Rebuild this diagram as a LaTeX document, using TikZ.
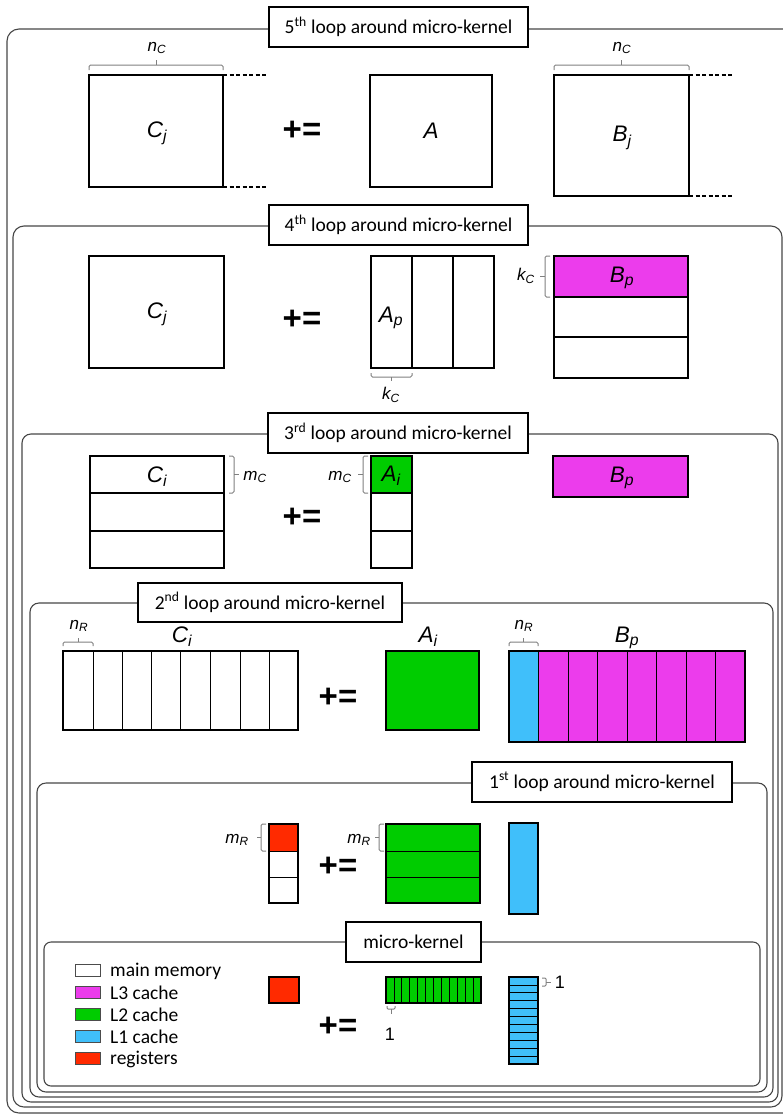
\documentclass[tikz,border=0pt]{standalone}
\usepackage{fontspec}
\setmainfont{Carlito}
\newfontfamily\arialf{Liberation Sans}
\definecolor{mag}{RGB}{236,60,236}
\definecolor{grn}{RGB}{0,204,0}
\definecolor{cyn}{RGB}{64,191,250}
\definecolor{rd}{RGB}{255,42,0}
\definecolor{frm}{RGB}{70,70,70}
\tikzset{
  frame/.style={draw=frm, line width=1.1pt, rounded corners=9pt},
  lbl/.style={draw=black, line width=1.3pt, fill=white, inner sep=0pt, font=\fontsize{19.5}{22}\selectfont},
  mat/.style={draw=black, line width=1.8pt},
  thin mat/.style={draw=black, line width=1.1pt},
  brace/.style={draw=gray, line width=1pt, rounded corners=1.5pt},
  big/.style={font=\arialf\itshape\fontsize{22.5}{25}\selectfont, inner sep=0pt},
  small/.style={font=\arialf\itshape\fontsize{17}{20}\selectfont, inner sep=0pt},
  pe/.style={font=\arialf\bfseries\fontsize{33}{35}\selectfont, inner sep=0pt},
  one/.style={font=\arialf\fontsize{18}{20}\selectfont, inner sep=0pt},
  leg/.style={font=\fontsize{19.5}{22}\selectfont, anchor=west, inner sep=0pt},
  legbox/.style={draw=black!70, line width=1pt}
}
\begin{document}
\begin{tikzpicture}[x=1pt,y=-1pt]
\useasboundingbox (0,0) rectangle (783,1117);
\clip (0,0) rectangle (783,1117);
% frames
\draw[frame, rounded corners=12pt] (7,29) rectangle (800,1113);
\draw[frame, rounded corners=11pt] (13,226) rectangle (782,1107);
\draw[frame] (22,434) rectangle (778,1102);
\draw[frame] (30,603) rectangle (773,1097);
\draw[frame] (37,783) rectangle (767,1092);
\draw[frame, rounded corners=7pt] (44,942) rectangle (760,1086);
% loop labels
\node[lbl, minimum width=259pt, minimum height=40pt] (l5) at (398.5,27) {5\textsuperscript{th} loop around micro-kernel};
\node[lbl, minimum width=259pt, minimum height=40pt] (l4) at (398.5,225) {4\textsuperscript{th} loop around micro-kernel};
\node[lbl, minimum width=260pt, minimum height=40pt] (l3) at (398,433) {3\textsuperscript{rd} loop around micro-kernel};
\node[lbl, minimum width=264pt, minimum height=39pt] (l2) at (270,602.5) {2\textsuperscript{nd} loop around micro-kernel};
\node[lbl, minimum width=260pt, minimum height=40pt] (l1) at (602,782) {1\textsuperscript{st} loop around micro-kernel};
\node[lbl, minimum width=135pt, minimum height=40pt] (lm) at (413.5,942) {micro-kernel};

% ===== 5th loop =====
\draw[mat] (89,75) rectangle (223,187);
\draw[mat, dash pattern=on 4pt off 2.5pt] (223,75) -- (267,75) (223,187) -- (267,187);
\draw[brace] (89,70) -- (89,65) -- (223,65) -- (223,70);
\draw[brace] (156,65) -- (156,60);
\node[small] (nc1) at (157,48) {n\textsubscript{C}};
\node[big] (cj5) at (157,133) {C\textsubscript{j}};
\node[pe] (pe5) at (302,131) {+=};
\draw[mat] (370,75) rectangle (492,187);
\node[big] (a5) at (431,131) {A};
\draw[mat] (554,75) rectangle (689,196);
\draw[mat, dash pattern=on 4pt off 2.5pt] (689,75) -- (733,75) (689,196) -- (733,196);
\draw[brace] (554,70) -- (554,65) -- (689,65) -- (689,70);
\draw[brace] (621.5,65) -- (621.5,60);
\node[small] (nc2) at (622,48) {n\textsubscript{C}};
\node[big] (bj5) at (622,138) {B\textsubscript{j}};

% ===== 4th loop =====
\draw[mat] (89,256) rectangle (224,368);
\node[big] (cj4) at (157,314) {C\textsubscript{j}};
\node[pe] (pe4) at (302,320) {+=};
\draw[mat] (371,256) rectangle (494,368);
\draw[mat] (412,256) -- (412,368) (453,256) -- (453,368);
\node[big] (ap4) at (391,318) {A\textsubscript{p}};
\draw[brace] (371,373) -- (371,377) -- (412,377) -- (412,373);
\draw[brace] (391.5,377) -- (391.5,381);
\node[small] (kc1) at (391,395) {k\textsubscript{C}};
\fill[mag] (554,256) rectangle (688,297);
\draw[mat] (554,256) rectangle (688,378);
\draw[mat] (554,297) -- (688,297) (554,337) -- (688,337);
\node[big] (bp4) at (622,278) {B\textsubscript{p}};
\draw[brace] (550,256) -- (545,256) -- (545,297) -- (550,297);
\draw[brace] (545,276.5) -- (540,276.5);
\node[small] (kc2) at (526,276) {k\textsubscript{C}};

% ===== 3rd loop =====
\draw[mat] (90,456) rectangle (224,568);
\draw[mat] (90,493) -- (224,493) (90,531) -- (224,531);
\node[big] (ci3) at (157,477) {C\textsubscript{i}};
\draw[brace] (229,456) -- (234,456) -- (234,493) -- (229,493);
\draw[brace] (234,474.5) -- (239,474.5);
\node[small] (mc1) at (255,477) {m\textsubscript{C}};
\node[pe] (pe3) at (302,518) {+=};
\fill[grn] (371,456) rectangle (412,493);
\draw[mat] (371,456) rectangle (412,568);
\draw[mat] (371,493) -- (412,493) (371,531) -- (412,531);
\node[big] (ai3) at (391,476) {A\textsubscript{i}};
\draw[brace] (368,456) -- (363,456) -- (363,493) -- (368,493);
\draw[brace] (363,474.5) -- (358,474.5);
\node[small] (mc2) at (340,477) {m\textsubscript{C}};
\draw[mat, fill=mag] (553,456) rectangle (688,497);
\node[big] (bp3) at (622,478) {B\textsubscript{p}};

% ===== 2nd loop =====
\draw[thin mat] (63,651) rectangle (298,730);
\foreach \x in {93,122,151,180,210,240,269} \draw[black, line width=0.9pt] (\x,651) -- (\x,730);
\draw[brace] (63,646) -- (63,642) -- (93,642) -- (93,646);
\draw[brace] (78,642) -- (78,638);
\node[small] (nr1) at (79,626) {n\textsubscript{R}};
\node[big] (ci2) at (182,637) {C\textsubscript{i}};
\node[pe] (pe2) at (338,698) {+=};
\draw[mat, fill=grn] (386,651) rectangle (479,730);
\node[big] (ai2) at (428,637) {A\textsubscript{i}};
\fill[cyn] (509,651) rectangle (538,742);
\fill[mag] (538,651) rectangle (745,742);
\foreach \x in {538,568,597,627,656,686,715} \draw[black, line width=0.9pt] (\x,651) -- (\x,742);
\draw[thin mat] (509,651) rectangle (745,742);
\draw[brace] (509,646) -- (509,642) -- (538,642) -- (538,646);
\draw[brace] (523.5,642) -- (523.5,638);
\node[small] (nr2) at (524,626) {n\textsubscript{R}};
\node[big] (bp2) at (627,638) {B\textsubscript{p}};

% ===== 1st loop =====
\fill[rd] (269,824) rectangle (298,851);
\draw[thin mat] (269,824) rectangle (298,903);
\draw[black, line width=0.9pt] (269,851) -- (298,851) (269,877) -- (298,877);
\draw[brace] (266,824) -- (261,824) -- (261,851) -- (266,851);
\draw[brace] (261,837.5) -- (257,837.5);
\node[small] (mr1) at (237,840) {m\textsubscript{R}};
\node[pe] (pe1) at (338,867) {+=};
\draw[thin mat, fill=grn] (386,824) rectangle (480,903);
\draw[black, line width=0.9pt] (386,851) -- (480,851) (386,877) -- (480,877);
\draw[brace] (384,824) -- (379,824) -- (379,851) -- (384,851);
\draw[brace] (379,837.5) -- (375,837.5);
\node[small] (mr2) at (359,840) {m\textsubscript{R}};
\draw[thin mat, fill=cyn] (509,823) rectangle (538,914);

% ===== micro-kernel =====
\draw[legbox, fill=white] (75,964) rectangle (100,976);
\draw[legbox, fill=mag] (75,986) rectangle (100,998);
\draw[legbox, fill=grn] (75,1008) rectangle (100,1020);
\draw[legbox, fill=cyn] (75,1030) rectangle (100,1042);
\draw[legbox, fill=rd] (75,1052) rectangle (100,1064);
\node[leg] (t1) at (110,971) {main memory};
\node[leg] (t2) at (110,993) {L3 cache};
\node[leg] (t3) at (110,1015) {L2 cache};
\node[leg] (t4) at (110,1037) {L1 cache};
\node[leg] (t5) at (110,1059) {registers};
\draw[thin mat, fill=rd] (269,977) rectangle (299,1003);
\node[pe] (pe0) at (338,1027) {+=};
\fill[grn] (386,977) rectangle (481,1003);
\foreach \i in {1,...,11} \draw[black, line width=0.8pt] ({386+\i*95/12},977) -- ({386+\i*95/12},1003);
\draw[thin mat] (386,977) rectangle (481,1003);
\draw[brace, rounded corners=1pt] (387,1006) -- (387,1009) -- (395,1009) -- (395,1006);
\draw[brace] (391,1009) -- (391,1014);
\node[one] (o1) at (390,1034) {1};
\fill[cyn] (509,977) rectangle (538,1064);
\foreach \i in {1,...,10} \draw[black, line width=0.8pt] (509,{977+\i*87/11}) -- (538,{977+\i*87/11});
\draw[thin mat] (509,977) rectangle (538,1064);
\draw[brace, rounded corners=1pt] (542,978) -- (546,978) -- (546,986) -- (542,986);
\draw[brace] (546,982) -- (551,982);
\node[one] (o2) at (560,982) {1};
\end{tikzpicture}
\end{document}
